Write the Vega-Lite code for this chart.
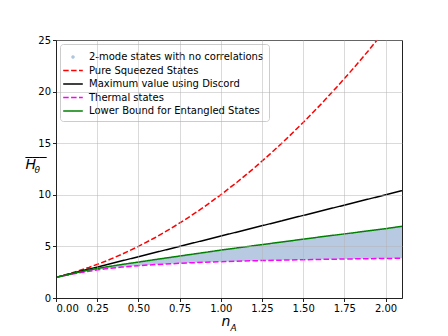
{
  "$schema": "https://vega.github.io/schema/vega-lite/v6.json",
  "width": 346,
  "height": 258,
  "autosize": "none",
  "padding": {"left": 56, "top": 40, "right": 46, "bottom": 38},
  "background": "white",
  "config": {
    "font": "DejaVu Sans",
    "view": {"stroke": "#222222", "strokeWidth": 1},
    "axis": {
      "labelFont": "DejaVu Sans",
      "labelFontSize": 10,
      "labelColor": "#000000",
      "tickColor": "#222222",
      "tickSize": 3.5,
      "domainColor": "#222222",
      "gridColor": "#b0b0b0",
      "gridOpacity": 0.6,
      "gridWidth": 0.8,
      "labelPadding": 2
    }
  },
  "datasets": {
    "lines": [
      {"series": "Pure Squeezed States", "n": 0.0, "H": 2.0},
      {"series": "Pure Squeezed States", "n": 0.1, "H": 2.44},
      {"series": "Pure Squeezed States", "n": 0.2, "H": 2.96},
      {"series": "Pure Squeezed States", "n": 0.3, "H": 3.56},
      {"series": "Pure Squeezed States", "n": 0.4, "H": 4.24},
      {"series": "Pure Squeezed States", "n": 0.5, "H": 5.0},
      {"series": "Pure Squeezed States", "n": 0.6, "H": 5.84},
      {"series": "Pure Squeezed States", "n": 0.7, "H": 6.76},
      {"series": "Pure Squeezed States", "n": 0.8, "H": 7.76},
      {"series": "Pure Squeezed States", "n": 0.9, "H": 8.84},
      {"series": "Pure Squeezed States", "n": 1.0, "H": 10.0},
      {"series": "Pure Squeezed States", "n": 1.1, "H": 11.24},
      {"series": "Pure Squeezed States", "n": 1.2, "H": 12.56},
      {"series": "Pure Squeezed States", "n": 1.3, "H": 13.96},
      {"series": "Pure Squeezed States", "n": 1.4, "H": 15.44},
      {"series": "Pure Squeezed States", "n": 1.5, "H": 17.0},
      {"series": "Pure Squeezed States", "n": 1.6, "H": 18.64},
      {"series": "Pure Squeezed States", "n": 1.7, "H": 20.36},
      {"series": "Pure Squeezed States", "n": 1.8, "H": 22.16},
      {"series": "Pure Squeezed States", "n": 1.9, "H": 24.04},
      {"series": "Pure Squeezed States", "n": 2.0, "H": 26.0},
      {"series": "Maximum value using Discord", "n": 0.0, "H": 2.0},
      {"series": "Maximum value using Discord", "n": 1.0, "H": 6.0},
      {"series": "Maximum value using Discord", "n": 2.1, "H": 10.4},
      {"series": "Thermal states", "n": 0.0, "H": 2.0},
      {"series": "Thermal states", "n": 0.1, "H": 2.33},
      {"series": "Thermal states", "n": 0.2, "H": 2.6},
      {"series": "Thermal states", "n": 0.3, "H": 2.83},
      {"series": "Thermal states", "n": 0.4, "H": 3.0},
      {"series": "Thermal states", "n": 0.5, "H": 3.13},
      {"series": "Thermal states", "n": 0.6, "H": 3.24},
      {"series": "Thermal states", "n": 0.7, "H": 3.32},
      {"series": "Thermal states", "n": 0.8, "H": 3.4},
      {"series": "Thermal states", "n": 0.9, "H": 3.46},
      {"series": "Thermal states", "n": 1.0, "H": 3.52},
      {"series": "Thermal states", "n": 1.2, "H": 3.61},
      {"series": "Thermal states", "n": 1.4, "H": 3.68},
      {"series": "Thermal states", "n": 1.6, "H": 3.74},
      {"series": "Thermal states", "n": 1.8, "H": 3.79},
      {"series": "Thermal states", "n": 2.0, "H": 3.83},
      {"series": "Thermal states", "n": 2.1, "H": 3.85},
      {"series": "Lower Bound for Entangled States", "n": 0.0, "H": 2.0},
      {"series": "Lower Bound for Entangled States", "n": 0.1, "H": 2.37},
      {"series": "Lower Bound for Entangled States", "n": 0.2, "H": 2.72},
      {"series": "Lower Bound for Entangled States", "n": 0.3, "H": 3.0},
      {"series": "Lower Bound for Entangled States", "n": 0.4, "H": 3.25},
      {"series": "Lower Bound for Entangled States", "n": 0.5, "H": 3.48},
      {"series": "Lower Bound for Entangled States", "n": 0.6, "H": 3.72},
      {"series": "Lower Bound for Entangled States", "n": 0.7, "H": 3.95},
      {"series": "Lower Bound for Entangled States", "n": 0.8, "H": 4.18},
      {"series": "Lower Bound for Entangled States", "n": 0.9, "H": 4.41},
      {"series": "Lower Bound for Entangled States", "n": 1.0, "H": 4.64},
      {"series": "Lower Bound for Entangled States", "n": 1.2, "H": 5.07},
      {"series": "Lower Bound for Entangled States", "n": 1.4, "H": 5.49},
      {"series": "Lower Bound for Entangled States", "n": 1.6, "H": 5.91},
      {"series": "Lower Bound for Entangled States", "n": 1.8, "H": 6.31},
      {"series": "Lower Bound for Entangled States", "n": 2.0, "H": 6.72},
      {"series": "Lower Bound for Entangled States", "n": 2.1, "H": 6.95}
    ],
    "band": [
      {"n": 0.0, "lo": 2.0, "hi": 2.0},
      {"n": 0.1, "lo": 2.33, "hi": 2.37},
      {"n": 0.2, "lo": 2.6, "hi": 2.72},
      {"n": 0.3, "lo": 2.83, "hi": 3.0},
      {"n": 0.4, "lo": 3.0, "hi": 3.25},
      {"n": 0.5, "lo": 3.13, "hi": 3.48},
      {"n": 0.6, "lo": 3.24, "hi": 3.72},
      {"n": 0.7, "lo": 3.32, "hi": 3.95},
      {"n": 0.8, "lo": 3.4, "hi": 4.18},
      {"n": 0.9, "lo": 3.46, "hi": 4.41},
      {"n": 1.0, "lo": 3.52, "hi": 4.64},
      {"n": 1.2, "lo": 3.61, "hi": 5.07},
      {"n": 1.4, "lo": 3.68, "hi": 5.49},
      {"n": 1.6, "lo": 3.74, "hi": 5.91},
      {"n": 1.8, "lo": 3.79, "hi": 6.31},
      {"n": 2.0, "lo": 3.83, "hi": 6.72},
      {"n": 2.1, "lo": 3.85, "hi": 6.95}
    ]
  },
  "layer": [
    {
      "data": {"name": "band"},
      "mark": {"type": "area", "color": "#b0c4de", "opacity": 0.9},
      "encoding": {
        "x": {"field": "n", "type": "quantitative", "scale": {"domain": [0, 2.1], "nice": false, "zero": false},
          "axis": {"title": "A", "titleFont": "DejaVu Sans", "titleFontStyle": "italic", "titleFontWeight": "normal", "titleFontSize": 9, "titleX": 174, "titleY": 32, "titleAlign": "left", "titleBaseline": "alphabetic", "labels": false, "ticks": false, "domain": false, "grid": false, "orient": "bottom"}},
        "y": {"field": "lo", "type": "quantitative", "scale": {"domain": [0, 25], "nice": false},
          "axis": {"title": "θ", "titleFont": "DejaVu Sans", "titleFontStyle": "italic", "titleFontWeight": "normal", "titleFontSize": 9, "titleAngle": 0, "titleX": -22, "titleY": 132, "titleAlign": "left", "titleBaseline": "alphabetic", "labels": false, "ticks": false, "domain": false, "grid": false, "orient": "left"}},
        "y2": {"field": "hi"}
      }
    },
    {
      "data": {"name": "lines"},
      "mark": {"type": "line", "strokeWidth": 1.5, "clip": true},
      "encoding": {
        "x": {"field": "n", "type": "quantitative",
          "axis": {"title": "n", "titleFont": "DejaVu Sans", "titleFontStyle": "italic", "titleFontWeight": "normal", "titleFontSize": 14, "titleX": 165, "titleY": 27, "titleAlign": "left", "titleBaseline": "alphabetic", "values": [0, 0.25, 0.5, 0.75, 1, 1.25, 1.5, 1.75, 2], "format": ".2f", "grid": true, "zindex": 1, "orient": "bottom"}},
        "y": {"field": "H", "type": "quantitative",
          "axis": {"title": ["___", "H"], "titleLineHeight": 14.5, "titleFont": "DejaVu Sans", "titleFontStyle": "italic", "titleFontWeight": "normal", "titleFontSize": 14, "titleAngle": 0, "titleX": -31, "titleY": 114, "titleAlign": "left", "titleBaseline": "alphabetic", "values": [0, 5, 10, 15, 20, 25], "grid": true, "zindex": 1, "orient": "left"}},
        "color": {"field": "series", "type": "nominal",
          "scale": {"domain": ["2-mode states with no correlations", "Pure Squeezed States", "Maximum value using Discord", "Thermal states", "Lower Bound for Entangled States"],
            "range": ["#b0c4de", "#ff0000", "#000000", "#ff00ff", "#008000"]},
          "legend": {"title": null, "orient": "top-left", "offset": 4, "labelFont": "DejaVu Sans", "labelFontSize": 10, "labelColor": "#000000", "labelLimit": 0, "labelOffset": 8, "symbolType": "stroke", "symbolSize": 196, "symbolStrokeWidth": 1.5, "rowPadding": 0.5, "padding": 5, "strokeColor": "#cccccc", "fillColor": "rgba(255,255,255,0.8)", "cornerRadius": 3,
            "encode": {"symbols": {"update": {
              "shape": {"signal": "datum.value === '2-mode states with no correlations' ? 'circle' : 'M-1.4,0H1.4'"},
              "size": {"signal": "datum.value === '2-mode states with no correlations' ? 4 : 196"},
              "fill": {"signal": "datum.value === '2-mode states with no correlations' ? '#b0c4de' : 'transparent'"}
            }}}}},
        "strokeDash": {"field": "series", "type": "nominal",
          "scale": {"domain": ["2-mode states with no correlations", "Pure Squeezed States", "Maximum value using Discord", "Thermal states", "Lower Bound for Entangled States"],
            "range": [[1, 0], [5.5, 2.4], [1, 0], [5.5, 2.4], [1, 0]]},
          "legend": {"title": null, "orient": "top-left", "offset": 4, "labelFont": "DejaVu Sans", "labelFontSize": 10, "labelColor": "#000000", "labelLimit": 0, "labelOffset": 8, "symbolType": "stroke", "symbolSize": 196, "symbolStrokeWidth": 1.5, "rowPadding": 0.5, "padding": 5, "strokeColor": "#cccccc", "fillColor": "rgba(255,255,255,0.8)", "cornerRadius": 3,
            "encode": {"symbols": {"update": {
              "shape": {"signal": "datum.value === '2-mode states with no correlations' ? 'circle' : 'M-1.4,0H1.4'"},
              "size": {"signal": "datum.value === '2-mode states with no correlations' ? 4 : 196"},
              "fill": {"signal": "datum.value === '2-mode states with no correlations' ? '#b0c4de' : 'transparent'"}
            }}}}}
      }
    }
  ],
  "resolve": {"axis": {"x": "independent", "y": "independent"}}
}
